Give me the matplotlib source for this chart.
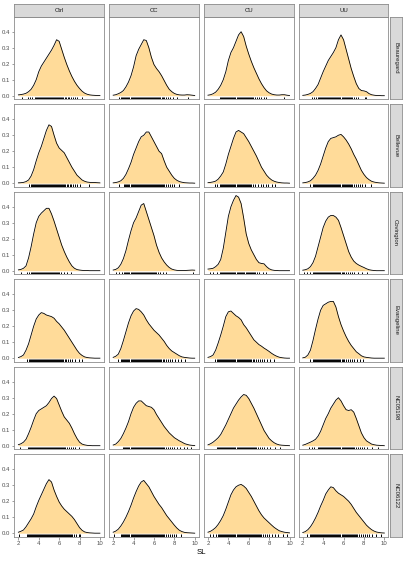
import numpy as np
import matplotlib.pyplot as plt

plt.rcParams['font.family'] = ['Liberation Sans', 'DejaVu Sans']

treatments = ["Ctrl", "CC", "CU", "UU"]
cultivars = ["Beauregard", "Bellevue", "Covington", "Evangeline", "NC05198", "NC06122"]

sl_grid = [2.0, 2.25, 2.5, 2.75, 3.0, 3.25, 3.5, 3.75, 4.0, 4.25, 4.5, 4.75, 5.0, 5.25, 5.5, 5.75,
           6.0, 6.25, 6.5, 6.75, 7.0, 7.25, 7.5, 7.75, 8.0, 8.25, 8.5, 8.75, 9.0, 9.25, 9.5, 9.75, 10.0]

# density per treatment (Ctrl, CC, CU, UU) for each cultivar
dens_beauregard = [
    [0.005, 0.007, 0.010, 0.015, 0.025, 0.040, 0.065, 0.10, 0.15, 0.185, 0.21, 0.235, 0.26, 0.285, 0.315, 0.35,
     0.34, 0.29, 0.24, 0.195, 0.155, 0.12, 0.09, 0.065, 0.045, 0.028, 0.016, 0.009, 0.005, 0.003, 0.002, 0.001, 0.001],
    [0.003, 0.006, 0.012, 0.02, 0.032, 0.055, 0.085, 0.125, 0.18, 0.25, 0.29, 0.32, 0.35, 0.345, 0.30, 0.24,
     0.195, 0.17, 0.15, 0.125, 0.095, 0.065, 0.04, 0.025, 0.014, 0.008, 0.005, 0.004, 0.004, 0.006, 0.005, 0.003, 0.001],
    [0.003, 0.006, 0.012, 0.022, 0.04, 0.065, 0.10, 0.15, 0.22, 0.27, 0.30, 0.34, 0.38, 0.40, 0.37, 0.31,
     0.26, 0.215, 0.175, 0.14, 0.105, 0.075, 0.05, 0.03, 0.018, 0.01, 0.006, 0.004, 0.004, 0.006, 0.006, 0.003, 0.001],
    [0.002, 0.004, 0.008, 0.014, 0.025, 0.045, 0.07, 0.11, 0.15, 0.185, 0.22, 0.245, 0.27, 0.30, 0.35, 0.38,
     0.35, 0.29, 0.23, 0.17, 0.12, 0.075, 0.045, 0.032, 0.03, 0.025, 0.013, 0.006, 0.003, 0.001, 0.001, 0.0, 0.0],
]
dens_bellevue = [
    [0.002, 0.003, 0.005, 0.01, 0.02, 0.045, 0.085, 0.14, 0.19, 0.23, 0.28, 0.33, 0.365, 0.355, 0.30, 0.25,
     0.22, 0.205, 0.19, 0.16, 0.13, 0.10, 0.075, 0.05, 0.035, 0.02, 0.012, 0.007, 0.005, 0.004, 0.004, 0.003, 0.002],
    [0.002, 0.004, 0.008, 0.015, 0.03, 0.055, 0.09, 0.13, 0.18, 0.22, 0.26, 0.29, 0.30, 0.32, 0.32, 0.29,
     0.26, 0.23, 0.20, 0.185, 0.14, 0.10, 0.075, 0.05, 0.03, 0.018, 0.01, 0.006, 0.003, 0.002, 0.001, 0.001, 0.0],
    [0.003, 0.005, 0.008, 0.013, 0.025, 0.045, 0.07, 0.12, 0.18, 0.23, 0.28, 0.32, 0.33, 0.32, 0.31, 0.285,
     0.26, 0.23, 0.20, 0.17, 0.135, 0.10, 0.075, 0.05, 0.033, 0.02, 0.012, 0.007, 0.004, 0.002, 0.001, 0.001, 0.0],
    [0.002, 0.004, 0.008, 0.015, 0.03, 0.05, 0.08, 0.12, 0.17, 0.22, 0.26, 0.28, 0.285, 0.29, 0.30, 0.305,
     0.29, 0.27, 0.245, 0.215, 0.18, 0.15, 0.115, 0.08, 0.055, 0.035, 0.022, 0.012, 0.007, 0.004, 0.002, 0.001, 0.0],
]
dens_covington = [
    [0.005, 0.008, 0.015, 0.03, 0.08, 0.15, 0.23, 0.30, 0.34, 0.36, 0.375, 0.39, 0.39, 0.355, 0.31, 0.26,
     0.21, 0.16, 0.12, 0.085, 0.055, 0.03, 0.015, 0.007, 0.004, 0.002, 0.001, 0.001, 0.0, 0.0, 0.0, 0.0, 0.0],
    [0.004, 0.008, 0.018, 0.04, 0.075, 0.125, 0.19, 0.25, 0.30, 0.33, 0.37, 0.41, 0.42, 0.37, 0.32, 0.27,
     0.22, 0.16, 0.115, 0.08, 0.055, 0.035, 0.02, 0.01, 0.005, 0.002, 0.001, 0.001, 0.001, 0.002, 0.003, 0.004, 0.003],
    [0.01, 0.012, 0.015, 0.025, 0.04, 0.07, 0.14, 0.24, 0.34, 0.40, 0.44, 0.47, 0.46, 0.42, 0.33, 0.23,
     0.17, 0.13, 0.10, 0.07, 0.05, 0.045, 0.043, 0.025, 0.012, 0.005, 0.002, 0.001, 0.0, 0.0, 0.0, 0.0, 0.0],
    [0.003, 0.006, 0.012, 0.025, 0.05, 0.09, 0.15, 0.21, 0.27, 0.31, 0.335, 0.345, 0.345, 0.335, 0.315, 0.27,
     0.22, 0.17, 0.12, 0.085, 0.06, 0.045, 0.035, 0.027, 0.02, 0.012, 0.006, 0.003, 0.001, 0.0, 0.0, 0.0, 0.0],
]
dens_evangeline = [
    [0.004, 0.01, 0.02, 0.05, 0.09, 0.145, 0.20, 0.245, 0.27, 0.285, 0.28, 0.27, 0.265, 0.26, 0.25, 0.23,
     0.215, 0.195, 0.175, 0.15, 0.125, 0.10, 0.075, 0.05, 0.03, 0.017, 0.008, 0.004, 0.002, 0.001, 0.0, 0.0, 0.0],
    [0.005, 0.012, 0.025, 0.06, 0.11, 0.165, 0.22, 0.265, 0.295, 0.31, 0.305, 0.29, 0.27, 0.24, 0.215, 0.195,
     0.175, 0.16, 0.145, 0.125, 0.105, 0.08, 0.06, 0.045, 0.035, 0.025, 0.015, 0.008, 0.005, 0.003, 0.001, 0.0, 0.0],
    [0.005, 0.01, 0.02, 0.05, 0.095, 0.145, 0.20, 0.26, 0.29, 0.295, 0.28, 0.265, 0.255, 0.24, 0.21, 0.19,
     0.165, 0.14, 0.115, 0.10, 0.085, 0.075, 0.063, 0.053, 0.042, 0.03, 0.02, 0.012, 0.006, 0.003, 0.001, 0.0, 0.0],
    [0.002, 0.006, 0.02, 0.05, 0.11, 0.18, 0.245, 0.30, 0.33, 0.34, 0.35, 0.355, 0.355, 0.32, 0.26, 0.21,
     0.17, 0.135, 0.105, 0.08, 0.06, 0.04, 0.028, 0.015, 0.008, 0.005, 0.003, 0.001, 0.0, 0.0, 0.0, 0.0, 0.0],
]
dens_nc05198 = [
    [0.006, 0.012, 0.022, 0.04, 0.075, 0.115, 0.16, 0.20, 0.22, 0.23, 0.24, 0.25, 0.27, 0.295, 0.31, 0.295,
     0.255, 0.215, 0.18, 0.16, 0.14, 0.11, 0.075, 0.045, 0.022, 0.01, 0.005, 0.002, 0.001, 0.0, 0.0, 0.0, 0.0],
    [0.004, 0.01, 0.025, 0.045, 0.075, 0.11, 0.15, 0.20, 0.24, 0.265, 0.28, 0.28, 0.265, 0.25, 0.245, 0.24,
     0.225, 0.195, 0.17, 0.145, 0.12, 0.10, 0.08, 0.065, 0.05, 0.04, 0.03, 0.022, 0.013, 0.008, 0.004, 0.002, 0.001],
    [0.005, 0.012, 0.022, 0.035, 0.05, 0.07, 0.10, 0.13, 0.165, 0.20, 0.235, 0.26, 0.285, 0.305, 0.32, 0.315,
     0.295, 0.265, 0.235, 0.20, 0.165, 0.13, 0.095, 0.07, 0.045, 0.03, 0.018, 0.01, 0.005, 0.003, 0.002, 0.001, 0.0],
    [0.003, 0.008, 0.015, 0.022, 0.03, 0.04, 0.06, 0.09, 0.13, 0.17, 0.20, 0.235, 0.26, 0.285, 0.30, 0.28,
     0.25, 0.225, 0.22, 0.225, 0.21, 0.17, 0.125, 0.08, 0.05, 0.03, 0.02, 0.01, 0.006, 0.003, 0.002, 0.001, 0.0],
]
dens_nc06122 = [
    [0.006, 0.012, 0.02, 0.04, 0.065, 0.09, 0.12, 0.165, 0.205, 0.24, 0.275, 0.31, 0.335, 0.32, 0.27, 0.23,
     0.195, 0.17, 0.15, 0.135, 0.12, 0.105, 0.085, 0.06, 0.035, 0.018, 0.008, 0.004, 0.002, 0.001, 0.0, 0.0, 0.0],
    [0.006, 0.013, 0.025, 0.045, 0.07, 0.10, 0.135, 0.175, 0.22, 0.26, 0.295, 0.32, 0.33, 0.31, 0.29, 0.26,
     0.23, 0.205, 0.18, 0.16, 0.135, 0.11, 0.09, 0.07, 0.05, 0.032, 0.018, 0.01, 0.005, 0.003, 0.002, 0.001, 0.0],
    [0.006, 0.012, 0.022, 0.035, 0.055, 0.08, 0.11, 0.15, 0.195, 0.24, 0.27, 0.29, 0.30, 0.305, 0.295, 0.28,
     0.255, 0.23, 0.20, 0.17, 0.14, 0.115, 0.095, 0.08, 0.065, 0.05, 0.036, 0.025, 0.015, 0.01, 0.006, 0.004, 0.002],
    [0.004, 0.01, 0.022, 0.04, 0.065, 0.095, 0.13, 0.17, 0.205, 0.245, 0.27, 0.29, 0.285, 0.265, 0.25, 0.24,
     0.23, 0.215, 0.20, 0.18, 0.155, 0.13, 0.11, 0.09, 0.07, 0.05, 0.035, 0.022, 0.013, 0.007, 0.004, 0.002, 0.001],
]

# observed SL values (rug marks)
rug_beauregard = [
    [2.4, 2.9, 3.1, 3.3, 3.6, 3.7, 3.8, 3.9, 4.0, 4.1, 4.2, 4.3, 4.4, 4.5, 4.6, 4.7, 4.8, 4.9, 5.0, 5.1, 5.2,
     5.3, 5.4, 5.5, 5.6, 5.7, 5.8, 5.9, 6.0, 6.1, 6.2, 6.3, 6.4, 6.6, 6.7, 6.9, 7.0, 7.2, 7.4, 7.6, 7.8, 8.2],
    [2.6, 2.8, 2.9, 3.0, 3.1, 3.2, 3.3, 3.4, 3.5, 3.6, 3.7, 3.8, 3.9, 4.0, 4.1, 4.2, 4.3, 4.4, 4.5, 4.6, 4.7,
     4.8, 4.9, 5.0, 5.1, 5.2, 5.3, 5.4, 5.5, 5.6, 5.7, 5.8, 5.9, 6.0, 6.1, 6.2, 6.3, 6.4, 6.5, 6.6, 6.8, 6.9,
     7.0, 7.2, 7.4, 7.6, 7.9, 8.3, 9.3],
    [3.2, 3.3, 3.4, 3.5, 3.6, 3.7, 3.8, 3.9, 4.0, 4.1, 4.2, 4.3, 4.4, 4.5, 4.6, 4.7, 4.8, 4.9, 5.0, 5.1, 5.2,
     5.3, 5.4, 5.5, 5.6, 5.7, 5.8, 5.9, 6.0, 6.1, 6.2, 6.3, 6.4, 6.6, 6.8, 7.0, 7.2, 7.5, 7.7, 9.5],
    [2.9, 3.1, 3.3, 3.5, 3.6, 3.7, 3.8, 3.9, 4.0, 4.1, 4.2, 4.3, 4.4, 4.5, 4.6, 4.7, 4.8, 4.9, 5.0, 5.1, 5.2,
     5.3, 5.4, 5.5, 5.6, 5.7, 5.8, 5.9, 6.0, 6.1, 6.2, 6.3, 6.4, 6.5, 6.6, 6.7, 6.8, 7.0, 7.2, 7.4, 8.1, 8.2],
]
rug_bellevue = [
    [3.0, 3.2, 3.3, 3.4, 3.5, 3.6, 3.7, 3.8, 3.9, 4.0, 4.1, 4.2, 4.3, 4.4, 4.5, 4.6, 4.7, 4.8, 4.9, 5.0, 5.1,
     5.2, 5.3, 5.4, 5.5, 5.6, 5.7, 5.8, 5.9, 6.0, 6.1, 6.2, 6.3, 6.4, 6.5, 6.6, 6.8, 6.9, 7.1, 7.2, 7.4, 7.6,
     7.8, 8.0, 8.9],
    [2.6, 3.1, 3.2, 3.3, 3.4, 3.5, 3.6, 3.7, 3.8, 3.9, 4.0, 4.1, 4.2, 4.3, 4.4, 4.5, 4.6, 4.7, 4.8, 4.9, 5.0,
     5.1, 5.2, 5.3, 5.4, 5.5, 5.6, 5.7, 5.8, 5.9, 6.0, 6.1, 6.2, 6.3, 6.4, 6.5, 6.6, 6.7, 6.8, 6.9, 7.0, 7.2,
     7.4, 7.6, 7.8, 8.0, 8.5],
    [2.7, 2.9, 3.2, 3.3, 3.4, 3.5, 3.6, 3.7, 3.8, 3.9, 4.0, 4.1, 4.2, 4.3, 4.4, 4.5, 4.6, 4.7, 4.8, 4.9, 5.0,
     5.1, 5.2, 5.3, 5.4, 5.5, 5.6, 5.7, 5.8, 5.9, 6.0, 6.1, 6.2, 6.4, 6.6, 6.9, 7.2, 7.4, 7.7, 7.9, 8.3, 8.6],
    [2.7, 3.0, 3.1, 3.2, 3.3, 3.4, 3.5, 3.6, 3.7, 3.8, 3.9, 4.0, 4.1, 4.2, 4.3, 4.4, 4.5, 4.6, 4.7, 4.8, 4.9,
     5.0, 5.1, 5.2, 5.3, 5.4, 5.5, 5.6, 5.7, 5.8, 5.9, 6.0, 6.1, 6.2, 6.3, 6.4, 6.5, 6.6, 6.7, 6.8, 7.0, 7.2,
     7.4, 7.6, 7.8, 8.1, 8.7],
]
rug_covington = [
    [2.3, 2.8, 3.0, 3.2, 3.3, 3.4, 3.5, 3.6, 3.7, 3.8, 3.9, 4.0, 4.1, 4.2, 4.3, 4.4, 4.5, 4.6, 4.7, 4.8, 4.9,
     5.0, 5.1, 5.2, 5.3, 5.4, 5.5, 5.6, 5.7, 5.8, 5.9, 6.0, 6.2, 6.5, 6.8, 7.2],
    [2.3, 2.6, 2.9, 3.1, 3.2, 3.3, 3.4, 3.5, 3.6, 3.7, 3.8, 3.9, 4.0, 4.1, 4.2, 4.3, 4.4, 4.5, 4.6, 4.7, 4.8,
     4.9, 5.0, 5.1, 5.2, 5.3, 5.4, 5.5, 5.6, 5.7, 5.8, 5.9, 6.0, 6.1, 6.2, 6.4, 6.6, 6.9, 7.2, 9.8],
    [2.2, 2.5, 2.9, 3.2, 3.3, 3.4, 3.5, 3.6, 3.7, 3.8, 3.9, 4.0, 4.1, 4.2, 4.3, 4.4, 4.5, 4.6, 4.7, 4.8, 4.9,
     5.0, 5.1, 5.2, 5.3, 5.4, 5.5, 5.7, 5.8, 5.9, 6.0, 6.1, 6.2, 6.3, 6.4, 6.5, 6.6, 6.8, 7.0, 7.4, 7.7],
    [2.1, 2.4, 2.7, 3.0, 3.1, 3.2, 3.3, 3.4, 3.5, 3.6, 3.7, 3.8, 3.9, 4.0, 4.1, 4.2, 4.3, 4.4, 4.5, 4.6, 4.7,
     4.8, 4.9, 5.0, 5.1, 5.2, 5.3, 5.4, 5.5, 5.6, 5.7, 5.8, 5.9, 6.0, 6.2, 6.4, 6.6, 6.8, 7.0, 7.4, 7.8, 8.3],
]
rug_evangeline = [
    [2.8, 3.0, 3.1, 3.2, 3.3, 3.4, 3.5, 3.6, 3.7, 3.8, 3.9, 4.0, 4.1, 4.2, 4.3, 4.4, 4.5, 4.6, 4.7, 4.8, 4.9,
     5.0, 5.1, 5.2, 5.3, 5.4, 5.5, 5.6, 5.7, 5.8, 5.9, 6.0, 6.1, 6.2, 6.3, 6.4, 6.6, 6.7, 6.9, 7.1, 7.3, 7.6,
     7.9, 8.2],
    [2.5, 2.8, 2.9, 3.0, 3.1, 3.2, 3.3, 3.4, 3.5, 3.6, 3.7, 3.8, 3.9, 4.0, 4.1, 4.2, 4.3, 4.4, 4.5, 4.6, 4.7,
     4.8, 4.9, 5.0, 5.1, 5.2, 5.3, 5.4, 5.5, 5.6, 5.7, 5.8, 5.9, 6.0, 6.1, 6.2, 6.3, 6.4, 6.5, 6.6, 6.7, 6.9,
     7.0, 7.2, 7.4, 7.6, 7.8, 8.1, 8.4, 8.7, 9.0],
    [2.7, 2.9, 3.0, 3.1, 3.2, 3.3, 3.4, 3.5, 3.6, 3.7, 3.8, 3.9, 4.0, 4.1, 4.2, 4.3, 4.4, 4.5, 4.6, 4.7, 4.8,
     4.9, 5.0, 5.1, 5.2, 5.3, 5.4, 5.5, 5.6, 5.7, 5.8, 5.9, 6.0, 6.1, 6.2, 6.4, 6.5, 6.7, 6.9, 7.1, 7.3, 7.5,
     7.8, 8.1, 8.5],
    [2.7, 3.0, 3.1, 3.2, 3.3, 3.4, 3.5, 3.6, 3.7, 3.8, 3.9, 4.0, 4.1, 4.2, 4.3, 4.4, 4.5, 4.6, 4.7, 4.8, 4.9,
     5.0, 5.1, 5.2, 5.3, 5.4, 5.5, 5.6, 5.7, 5.8, 5.9, 6.0, 6.2, 6.4, 6.6, 6.8, 7.0, 7.3, 7.6, 7.9],
]
rug_nc05198 = [
    [2.2, 2.9, 3.0, 3.1, 3.2, 3.3, 3.4, 3.5, 3.6, 3.7, 3.8, 3.9, 4.0, 4.1, 4.2, 4.3, 4.4, 4.5, 4.6, 4.7, 4.8,
     4.9, 5.0, 5.1, 5.2, 5.3, 5.4, 5.5, 5.6, 5.7, 5.8, 5.9, 6.0, 6.1, 6.2, 6.3, 6.4, 6.5, 6.6, 6.8, 7.0, 7.2,
     7.4, 7.6, 7.9],
    [3.0, 3.1, 3.2, 3.3, 3.4, 3.5, 3.6, 3.7, 3.8, 3.9, 4.0, 4.1, 4.2, 4.3, 4.4, 4.5, 4.6, 4.7, 4.8, 4.9, 5.0,
     5.1, 5.2, 5.3, 5.4, 5.5, 5.6, 5.7, 5.8, 5.9, 6.0, 6.1, 6.2, 6.3, 6.4, 6.5, 6.6, 6.7, 6.8, 6.9, 7.0, 7.2,
     7.4, 7.6, 7.8, 8.0, 8.3, 8.6, 8.9, 9.2, 9.6],
    [2.9, 3.0, 3.1, 3.2, 3.3, 3.4, 3.5, 3.6, 3.7, 3.8, 3.9, 4.0, 4.1, 4.2, 4.3, 4.4, 4.5, 4.6, 4.7, 4.8, 4.9,
     5.0, 5.1, 5.2, 5.3, 5.4, 5.5, 5.6, 5.7, 5.8, 5.9, 6.0, 6.1, 6.2, 6.3, 6.4, 6.5, 6.6, 6.7, 6.9, 7.1, 7.3,
     7.5, 7.8, 8.1, 8.6, 9.1],
    [2.6, 2.9, 3.1, 3.5, 3.6, 3.7, 3.8, 3.9, 4.0, 4.1, 4.2, 4.3, 4.4, 4.5, 4.6, 4.7, 4.8, 4.9, 5.0, 5.1, 5.2,
     5.3, 5.4, 5.5, 5.6, 5.7, 5.8, 5.9, 6.0, 6.1, 6.2, 6.3, 6.4, 6.5, 6.6, 6.7, 6.8, 6.9, 7.0, 7.2, 7.4, 7.6,
     7.8, 8.0, 8.3, 8.8, 9.4],
]
rug_nc06122 = [
    [2.1, 2.8, 2.9, 3.0, 3.1, 3.2, 3.3, 3.4, 3.5, 3.6, 3.7, 3.8, 3.9, 4.0, 4.1, 4.2, 4.3, 4.4, 4.5, 4.6, 4.7,
     4.8, 4.9, 5.0, 5.1, 5.2, 5.3, 5.4, 5.5, 5.6, 5.7, 5.8, 5.9, 6.0, 6.1, 6.2, 6.3, 6.4, 6.5, 6.6, 6.7, 6.8,
     6.9, 7.0, 7.1, 7.2, 7.3, 7.5, 7.7, 7.9, 8.0],
    [2.1, 2.8, 2.9, 3.0, 3.1, 3.2, 3.3, 3.4, 3.5, 3.6, 3.7, 3.8, 3.9, 4.0, 4.1, 4.2, 4.3, 4.4, 4.5, 4.6, 4.7,
     4.8, 4.9, 5.0, 5.1, 5.2, 5.3, 5.4, 5.5, 5.6, 5.7, 5.8, 5.9, 6.0, 6.1, 6.2, 6.3, 6.4, 6.5, 6.6, 6.7, 6.8,
     6.9, 7.0, 7.2, 7.4, 7.6, 7.8, 8.0, 8.2, 8.7],
    [2.2, 2.5, 2.8, 3.0, 3.1, 3.2, 3.3, 3.4, 3.5, 3.6, 3.7, 3.8, 3.9, 4.0, 4.1, 4.2, 4.3, 4.4, 4.5, 4.6, 4.7,
     4.8, 4.9, 5.0, 5.1, 5.2, 5.3, 5.4, 5.5, 5.6, 5.7, 5.8, 5.9, 6.0, 6.1, 6.2, 6.3, 6.4, 6.5, 6.6, 6.7, 6.8,
     6.9, 7.0, 7.1, 7.2, 7.4, 7.6, 7.8, 8.0, 8.3, 8.6, 8.9, 9.4, 9.8],
    [2.4, 2.7, 2.8, 2.9, 3.0, 3.1, 3.2, 3.3, 3.4, 3.5, 3.6, 3.7, 3.8, 3.9, 4.0, 4.1, 4.2, 4.3, 4.4, 4.5, 4.6,
     4.7, 4.8, 4.9, 5.0, 5.1, 5.2, 5.3, 5.4, 5.5, 5.6, 5.7, 5.8, 5.9, 6.0, 6.1, 6.2, 6.3, 6.4, 6.5, 6.6, 6.7,
     6.8, 6.9, 7.0, 7.1, 7.2, 7.3, 7.5, 7.7, 7.9, 8.1, 8.3, 8.5, 8.8, 9.2, 9.7],
]

dens_rows = [dens_beauregard, dens_bellevue, dens_covington, dens_evangeline, dens_nc05198, dens_nc06122]
rug_rows = [rug_beauregard, rug_bellevue, rug_covington, rug_evangeline, rug_nc05198, rug_nc06122]

W, H = 406, 562
fig = plt.figure(figsize=(W / 100, H / 100), dpi=100)

x0, dx, pw = 14.3, 94.8, 89.7
y0, dy, ph = 16.7, 87.5, 82.5
fill_col = "#FFDB99"
border = "#8c8c8c"
strip_bg = "#D9D9D9"

def frac(left, top, w, h):
    return [left / W, 1 - (top + h) / H, w / W, h / H]

for r, cult in enumerate(cultivars):
    for c, trt in enumerate(treatments):
        ax = fig.add_axes(frac(x0 + c * dx, y0 + r * dy, pw, ph))
        y = dens_rows[r][c]
        ax.fill_between(sl_grid, y, 0, color=fill_col, lw=0)
        ax.plot(sl_grid, y, color="black", lw=0.6)
        ax.vlines(rug_rows[r][c], 0, 0.032, transform=ax.get_xaxis_transform(),
                  color="black", lw=0.7)
        ax.set_xlim(1.6, 10.4)
        ax.set_ylim(-0.022, 0.494)
        ax.set_xticks([2, 4, 6, 8, 10])
        ax.set_yticks([0.0, 0.1, 0.2, 0.3, 0.4])
        for s in ax.spines.values():
            s.set_color(border)
            s.set_linewidth(0.6)
        ax.tick_params(length=1.8, width=0.4, color="#555555", labelsize=4.3,
                       labelcolor="#4D4D4D", pad=1)
        if r == len(cultivars) - 1:
            ax.set_xticklabels(["2", "4", "6", "8", "10"])
        else:
            ax.tick_params(axis="x", length=0, labelbottom=False)
        if c == 0:
            ax.set_yticklabels(["0.0", "0.1", "0.2", "0.3", "0.4"])
        else:
            ax.tick_params(axis="y", length=0, labelleft=False)

        if r == 0:
            sa = fig.add_axes(frac(x0 + c * dx, 4.0, pw, 12.7))
            sa.set_facecolor(strip_bg)
            sa.set_xticks([]); sa.set_yticks([])
            for s in sa.spines.values():
                s.set_color(border); s.set_linewidth(0.6)
            sa.text(0.5, 0.5, trt, ha="center", va="center", fontsize=4.3,
                    color="#1A1A1A", transform=sa.transAxes)
        if c == len(treatments) - 1:
            sa = fig.add_axes(frac(x0 + c * dx + pw + 1.2, y0 + r * dy, 12.3, ph))
            sa.set_facecolor(strip_bg)
            sa.set_xticks([]); sa.set_yticks([])
            for s in sa.spines.values():
                s.set_color(border); s.set_linewidth(0.6)
            sa.text(0.5, 0.5, cult, ha="center", va="center", fontsize=4.3,
                    rotation=-90, color="#1A1A1A", transform=sa.transAxes)

fig.text((x0 + x0 + 3 * dx + pw) / 2 / W, 1 - 553 / H, "SL", ha="center", va="center",
         fontsize=5.6, color="black")

fig.savefig("out.png", dpi=100)
